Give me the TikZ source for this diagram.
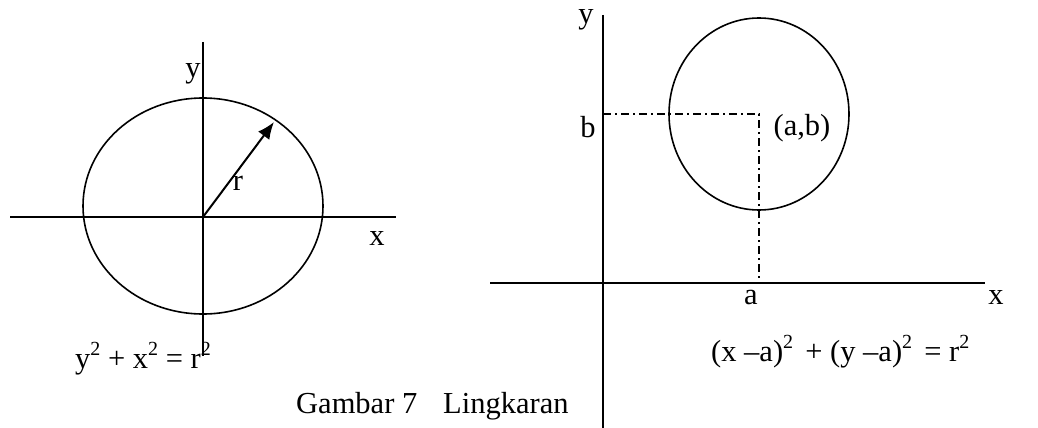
\documentclass[tikz,border=0pt]{standalone}
\usepackage{fontspec}
\setmainfont{Liberation Serif}
\usetikzlibrary{arrows.meta}
\newcommand\supr[1]{\raisebox{0.42em}{\fontsize{20}{22}\selectfont #1}}
\begin{document}
\begin{tikzpicture}[x=1pt,y=-1pt,
  axis/.style={line width=1.8pt},
  curve/.style={line width=1.6pt},
  guide/.style={line width=1.4pt, dash pattern=on 8pt off 4pt on 2pt off 4pt},
  lbl/.style={inner sep=0pt, font=\fontsize{30.5}{36}\selectfont}]
\useasboundingbox (0,0) rectangle (1038,428);
% left figure
\coordinate (O1) at (203,217);
\coordinate (E1) at (203,206);
\coordinate (yl1) at (203,42);
\coordinate (yl2) at (203,356);
\coordinate (xl1) at (10,217);
\coordinate (xl2) at (396,217);
\draw[axis] (yl1) -- (yl2);
\draw[axis] (xl1) -- (xl2);
\draw[curve] (E1) ellipse [x radius=120, y radius=108];
\coordinate (R) at (274,122);
\draw[line width=2pt,-{Latex[length=17pt,width=14pt]}] (O1) -- (R);
\node[lbl] (ylab1) at (193,74) {y};
\node[lbl] (xlab1) at (377,238) {x};
\node[lbl] (rlab) at (238,183) {r};
\node[lbl, anchor=base west] (eq1) at (75,368) {y\supr{2} + x\supr{2} = r\supr{2}};
% caption
\node[lbl, anchor=base west] (cap) at (296,413) {Gambar 7\hspace{0.6em} Lingkaran};
% right figure
\coordinate (yr1) at (603,15);
\coordinate (yr2) at (603,428);
\coordinate (xr1) at (490,283);
\coordinate (xr2) at (985,283);
\draw[axis] (yr1) -- (yr2);
\draw[axis] (xr1) -- (xr2);
\coordinate (C) at (759,114);
\draw[curve] (C) ellipse [x radius=90, y radius=96];
\coordinate (B) at (603,114);
\coordinate (A) at (759,280);
\draw[guide] (B) -- (C) -- (A);
\node[lbl] (ylab2) at (586,20) {y};
\node[lbl] (blab) at (588,127) {b};
\node[lbl] (ablab) at (802,128) {(a,b)};
\node[lbl] (alab) at (751,297) {a};
\node[lbl] (xlab2) at (996,297) {x};
\node[lbl, anchor=base west] (eq2) at (711,361) {(x –a)\supr{2}\hspace{0.15em} + (y –a)\supr{2}\hspace{0.15em} = r\supr{2}};
\end{tikzpicture}
\end{document}
